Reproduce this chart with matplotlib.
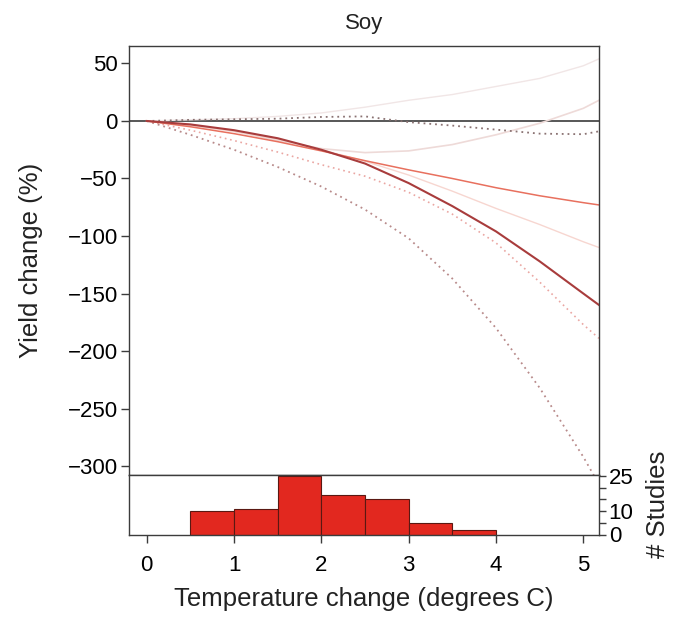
import matplotlib
matplotlib.use("Agg")
import matplotlib.pyplot as plt

plt.rcParams['font.family'] = ['Liberation Sans', 'DejaVu Sans']

# temperature steps for the response curves
temp = [0, 0.5, 1, 1.5, 2, 2.5, 3, 3.5, 4, 4.5, 5, 5.18]

# central estimate and its bounds
central = [0, -3, -8, -15, -25, -37, -54, -74, -96, -122, -150, -160]
upper_ci = [0, 1, 1.5, 2, 3.5, 4, -1, -4, -7.5, -11, -11.5, -9]
lower_ci = [0, -12, -25, -40, -57, -77, -102, -137, -180, -232, -292, -316]
mid_ci = [0, -8, -17, -27, -38, -48, -62, -81, -106, -140, -177, -189]

# alternative fits
linear_fit = [0, -5, -11, -18, -26, -34.5, -42.5, -50, -58, -65, -71, -73]
faint_down = [0, -4, -9, -16, -25, -35, -47, -61, -76, -90, -105, -110]
faint_u = [0, -3, -9, -17, -24, -27.5, -26, -20.5, -12, -2, 11, 18]
faint_up = [0, 1, 2, 4, 7, 12, 18, 23, 30, 37, 48, 54]

# number of studies per temperature bin
bin_left = [0.5, 1.0, 1.5, 2.0, 2.5, 3.0, 3.5]
studies = [10, 11, 25, 17, 15, 5, 2]

W, H = 681, 617
fig = plt.figure(figsize=(W / 100, H / 100), dpi=100)
ax = fig.add_axes([129 / W, 1 - 475 / H, 470 / W, 429 / H])
axh = fig.add_axes([129 / W, 1 - 534.5 / H, 470 / W, 59.5 / H])

edge = '#3c3c3c'
dots = (0, (1, 2.2))
tick_fs = 16
lab_fs = 18.5

ax.axhline(0, color='#2a2a2a', lw=1.1, zorder=1)
ax.plot(temp, faint_up, color='#f1e6e6', lw=1.0)
ax.plot(temp, faint_u, color='#eedad8', lw=1.2)
ax.plot(temp, faint_down, color='#f7d6d0', lw=1.0)
ax.plot(temp, upper_ci, color='#8a7272', lw=1.3, ls=dots)
ax.plot(temp, mid_ci, color='#eaa6a2', lw=1.2, ls=dots)
ax.plot(temp, lower_ci, color='#b88a8a', lw=1.3, ls=dots)
ax.plot(temp, linear_fit, color='#e8705e', lw=1.1)
ax.plot(temp, central, color='#a83c3c', lw=1.5)

ax.set_xlim(-0.203, 5.18)
ax.set_ylim(-307.8, 65.2)
ax.set_yticks([50, 0, -50, -100, -150, -200, -250, -300])
ax.set_yticklabels(['50', '0', '\u221250', '\u2212100', '\u2212150', '\u2212200', '\u2212250', '\u2212300'])
ax.set_xticks([])
ax.tick_params(axis='y', labelsize=tick_fs, length=6, width=1, color=edge, pad=2)
ax.set_ylabel('Yield change (%)', fontsize=lab_fs, color='#222')
ax.yaxis.set_label_coords(-0.182, 0.5)
ax.set_title('Soy', fontsize=16, color='#222', pad=12)
for s in ax.spines.values():
    s.set_color(edge)
    s.set_linewidth(1.0)

axh.bar(bin_left, studies, width=0.5, align='edge', color='#e2281f',
        edgecolor='#5a1812', linewidth=0.8)
axh.set_xlim(-0.203, 5.18)
axh.set_ylim(0, 25.4)
axh.set_xticks([0, 1, 2, 3, 4, 5])
axh.tick_params(axis='x', labelsize=tick_fs, length=6, width=1, color=edge, pad=9)
axh.yaxis.tick_right()
axh.yaxis.set_label_position('right')
axh.set_yticks([0, 5, 10, 15, 20, 25])
axh.set_yticklabels(['0', '', '10', '', '', '25'])
axh.tick_params(axis='y', labelsize=tick_fs, length=5, width=1, color=edge, pad=2)
axh.set_ylabel('# Studies', fontsize=lab_fs, color='#222', labelpad=9)
axh.set_xlabel('Temperature change (degrees C)', fontsize=lab_fs, color='#222', labelpad=8)
for s in axh.spines.values():
    s.set_color(edge)
    s.set_linewidth(1.0)

fig.savefig('out.png', dpi=100)
